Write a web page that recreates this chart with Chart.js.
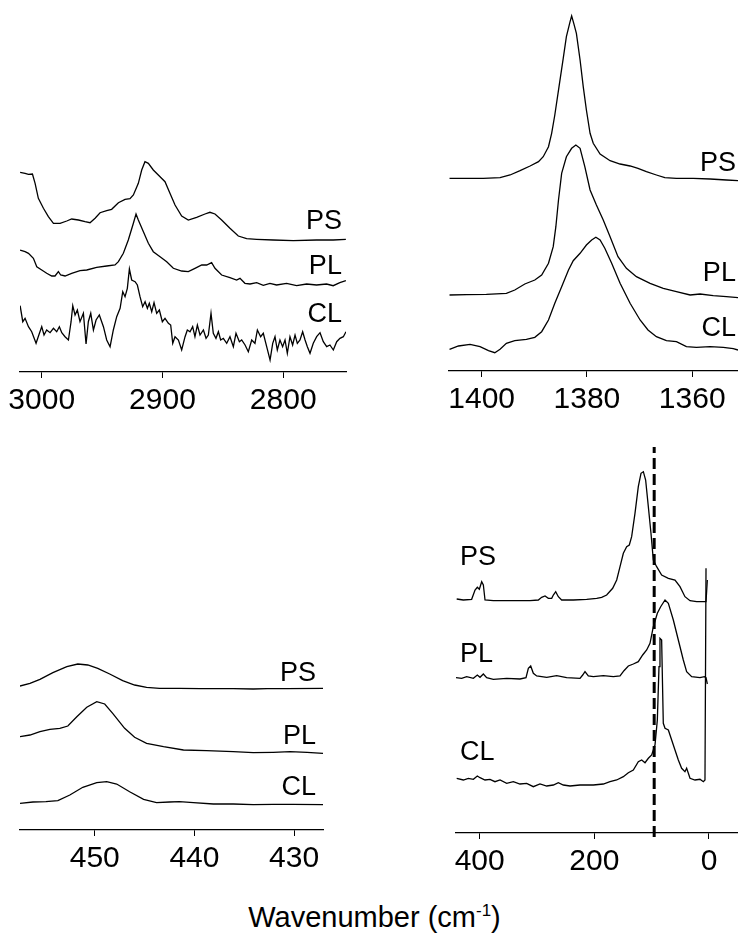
<!DOCTYPE html>
<html>
<head>
<meta charset="utf-8">
<title>Raman spectra PS / PL / CL</title>
<script src="https://cdn.jsdelivr.net/npm/chart.js@4.4.1/dist/chart.umd.min.js"></script>
<style>
  html, body { margin: 0; padding: 0; background: #fff; overflow: hidden; }
  body { width: 738px; height: 936px; position: relative; font-family: "Liberation Sans", Arial, sans-serif; }
  canvas { position: absolute; }
  #xlabel { position: absolute; left: 0; top: 900px; width: 749px; text-align: center;
            font-size: 29px; line-height: 34px; color: #000; }
  #xlabel sup { font-size: 17px; vertical-align: 0; position: relative; top: -11px; }
</style>
</head>
<body>
<canvas id="chStretch" width="369" height="422" style="left:0;top:0"></canvas>
<canvas id="ch3Bend" width="372" height="421" style="left:369px;top:0"></canvas>
<canvas id="skeletal" width="369" height="440" style="left:0;top:440px"></canvas>
<canvas id="lattice" width="372" height="443" style="left:369px;top:440px"></canvas>
<div id="xlabel">Wavenumber (cm<sup>-1</sup>)</div>
<script>
const FONT = '"Liberation Sans", Arial, sans-serif';
const seriesNames = ['PS', 'PL', 'CL'];

// C-H stretching region, 3020-2750 cm-1
const chTicks = [3000, 2900, 2800];
const chWnPS = [3017.9, 3013.8, 3011.0, 3007.7, 3005.5, 3002.8, 2998.6, 2994.5, 2990.3, 2984.8, 2979.3, 2975.2, 2969.6, 2964.1, 2960.0, 2955.8, 2951.7, 2946.2, 2942.1, 2936.5, 2931.0, 2926.9, 2924.1, 2920.0, 2917.2, 2914.5, 2911.7, 2907.6, 2902.0, 2897.9, 2893.8, 2889.6, 2884.1, 2878.6, 2871.7, 2864.8, 2860.7, 2856.5, 2851.0, 2844.1, 2837.2, 2830.3, 2822.0, 2808.2, 2791.7, 2772.4, 2758.6, 2748.1];
const chIntPS = [199.7, 198.7, 197.7, 198.0, 188.7, 173.7, 163.7, 155.3, 148.7, 148.7, 151.0, 153.0, 152.0, 150.3, 149.3, 153.7, 159.3, 161.3, 162.7, 169.3, 172.7, 173.3, 177.0, 188.7, 202.0, 210.3, 208.7, 202.0, 195.3, 190.3, 178.7, 167.0, 156.0, 152.0, 154.7, 158.0, 159.7, 158.0, 152.0, 143.7, 136.0, 133.3, 132.7, 132.0, 131.3, 132.0, 132.0, 132.7];
const chWnPL = [3017.9, 3013.8, 3011.0, 3006.9, 3004.1, 3000.0, 2995.9, 2991.7, 2989.0, 2986.2, 2984.3, 2980.7, 2975.2, 2968.3, 2962.7, 2954.5, 2946.2, 2939.3, 2936.5, 2932.4, 2928.3, 2924.1, 2921.9, 2920.0, 2915.8, 2911.7, 2907.6, 2902.0, 2896.5, 2891.0, 2884.1, 2878.6, 2873.1, 2867.5, 2863.4, 2859.3, 2856.5, 2851.0, 2844.1, 2838.6, 2835.8, 2831.7, 2827.5, 2822.0, 2816.5, 2811.0, 2805.5, 2797.2, 2788.9, 2780.6, 2772.4, 2764.1, 2758.6, 2753.1, 2748.1];
const chIntPL = [122.0, 120.3, 118.7, 113.7, 105.3, 102.0, 98.7, 96.0, 96.0, 100.3, 97.0, 96.0, 98.7, 101.3, 102.0, 104.7, 106.0, 107.0, 110.3, 118.7, 132.0, 148.7, 158.0, 152.0, 140.3, 128.7, 120.3, 115.3, 110.3, 103.7, 101.0, 100.3, 103.7, 107.0, 107.0, 109.3, 103.7, 97.0, 94.3, 92.0, 93.7, 88.7, 88.0, 89.3, 86.7, 88.7, 87.0, 88.7, 86.3, 88.0, 87.0, 88.0, 86.3, 89.3, 91.3];
const chWnCL = [3017.9, 3015.7, 3013.8, 3011.0, 3008.3, 3004.7, 3001.9, 3000.0, 2998.1, 2995.9, 2993.1, 2990.3, 2987.6, 2985.4, 2983.4, 2980.7, 2977.9, 2975.7, 2974.3, 2972.4, 2970.5, 2968.3, 2965.5, 2963.3, 2961.4, 2959.4, 2957.2, 2955.0, 2952.3, 2948.9, 2946.2, 2943.4, 2940.7, 2937.9, 2935.1, 2932.9, 2931.0, 2929.1, 2927.4, 2925.5, 2922.7, 2920.8, 2918.6, 2916.4, 2914.4, 2912.5, 2910.9, 2908.9, 2907.0, 2904.8, 2902.6, 2900.1, 2897.9, 2895.1, 2893.2, 2891.5, 2889.6, 2886.8, 2884.1, 2881.3, 2879.4, 2877.2, 2875.0, 2873.1, 2871.1, 2868.9, 2866.1, 2863.9, 2862.0, 2859.8, 2857.9, 2855.7, 2853.7, 2851.8, 2849.6, 2846.8, 2844.1, 2841.3, 2839.1, 2836.3, 2834.4, 2831.6, 2828.9, 2826.1, 2823.4, 2821.4, 2818.7, 2816.5, 2813.7, 2810.9, 2808.7, 2806.8, 2804.9, 2802.7, 2800.5, 2798.5, 2796.6, 2794.4, 2792.2, 2790.2, 2788.3, 2786.1, 2783.9, 2781.9, 2780.0, 2777.8, 2775.1, 2772.3, 2769.5, 2766.8, 2764.0, 2761.3, 2758.5, 2755.7, 2753.0, 2750.2, 2748.0];
const chIntCL = [66.3, 50.3, 53.7, 45.3, 40.3, 28.7, 38.7, 45.3, 37.0, 42.0, 39.3, 43.7, 40.3, 45.3, 39.3, 35.3, 32.0, 50.3, 66.3, 57.0, 62.0, 50.3, 58.7, 28.0, 50.3, 58.7, 42.0, 52.0, 57.0, 45.3, 32.0, 25.3, 42.0, 55.3, 63.7, 80.3, 75.3, 83.7, 103.0, 92.0, 90.3, 87.0, 75.3, 65.3, 70.3, 63.7, 68.7, 60.3, 69.3, 58.7, 62.0, 50.3, 53.7, 48.7, 47.0, 28.7, 35.3, 32.0, 22.0, 35.3, 42.0, 40.3, 45.3, 35.3, 47.0, 37.0, 42.0, 33.7, 37.0, 58.7, 38.7, 33.7, 40.3, 32.0, 33.7, 28.7, 35.3, 25.3, 38.7, 30.3, 32.0, 27.0, 20.3, 32.0, 28.7, 42.0, 35.3, 38.7, 25.3, 12.0, 28.7, 35.3, 22.0, 32.0, 25.3, 32.0, 18.7, 35.3, 27.0, 37.0, 28.7, 32.0, 40.3, 32.0, 25.3, 18.7, 28.7, 35.3, 39.3, 30.3, 25.3, 27.0, 22.0, 30.3, 33.7, 35.3, 40.3];

// CH3 symmetric bending region, 1406-1351 cm-1
const bendTicks = [1400, 1380, 1360];
const bendWnPS = [1406.1, 1402.8, 1399.7, 1396.5, 1394.6, 1392.7, 1390.8, 1389.2, 1388.3, 1387.3, 1386.7, 1386.1, 1385.3, 1384.5, 1383.9, 1383.2, 1382.9, 1382.5, 1382.0, 1381.3, 1380.7, 1380.1, 1379.4, 1378.8, 1377.5, 1375.6, 1373.7, 1371.8, 1370.3, 1368.7, 1366.8, 1365.2, 1363.0, 1359.8, 1356.6, 1353.5, 1351.3];
const bendIntPS = [192.7, 192.7, 192.7, 193.3, 196.0, 200.3, 205.0, 209.3, 214.3, 224.3, 237.7, 256.0, 284.3, 312.7, 334.3, 349.3, 355.0, 347.7, 337.7, 311.0, 284.3, 261.0, 237.7, 227.7, 217.0, 210.3, 207.0, 205.0, 202.7, 199.3, 196.0, 193.3, 192.7, 192.7, 192.0, 191.0, 190.3];
const bendWnPL = [1406.1, 1402.8, 1399.1, 1395.3, 1393.7, 1391.8, 1389.9, 1388.6, 1387.3, 1386.4, 1385.9, 1385.4, 1384.8, 1383.9, 1382.9, 1382.1, 1381.3, 1380.4, 1379.4, 1378.2, 1376.9, 1375.6, 1374.1, 1372.5, 1370.6, 1368.0, 1365.5, 1363.0, 1360.4, 1358.5, 1356.0, 1353.5, 1351.3];
const bendIntPL = [76.0, 76.3, 76.7, 77.7, 81.0, 87.0, 91.0, 96.0, 107.7, 124.3, 144.3, 171.0, 197.7, 214.3, 222.7, 226.0, 222.7, 204.3, 181.0, 166.0, 151.0, 134.3, 114.3, 102.7, 94.3, 87.7, 82.7, 79.3, 76.0, 77.0, 75.3, 74.3, 73.3];
const bendWnCL = [1406.1, 1404.4, 1402.2, 1400.3, 1398.7, 1397.5, 1396.5, 1395.3, 1393.7, 1391.5, 1389.9, 1388.6, 1387.3, 1386.1, 1384.8, 1383.5, 1382.6, 1381.3, 1380.1, 1379.1, 1378.3, 1377.5, 1376.6, 1375.3, 1373.7, 1371.8, 1369.9, 1368.4, 1366.8, 1364.9, 1363.0, 1361.1, 1359.2, 1356.6, 1354.1, 1352.2, 1351.3];
const bendIntCL = [21.7, 25.0, 26.7, 24.3, 20.3, 18.3, 21.7, 27.7, 30.3, 31.7, 33.7, 39.3, 51.0, 67.7, 84.3, 101.0, 110.3, 117.7, 126.0, 131.0, 133.7, 131.0, 122.7, 107.7, 87.7, 67.7, 51.0, 41.0, 34.3, 30.3, 29.3, 24.3, 23.7, 24.3, 23.7, 22.3, 21.0];

// skeletal band near 450 cm-1
const skelTicks = [450, 440, 430];
const skelWnPS = [457.5, 456.5, 455.5, 454.2, 452.8, 451.7, 450.7, 449.7, 448.5, 447.2, 446.0, 444.8, 443.5, 441.5, 439.4, 436.1, 434.1, 432.7, 430.7, 427.1];
const skelIntPS = [144.0, 146.7, 150.7, 157.3, 163.3, 166.0, 165.0, 161.7, 156.0, 149.3, 145.0, 142.7, 141.7, 141.7, 141.3, 141.3, 141.0, 141.3, 141.3, 141.7];
const skelWnPL = [457.5, 456.5, 455.5, 454.5, 453.5, 452.7, 451.8, 450.8, 449.8, 449.0, 448.2, 447.0, 446.0, 444.8, 443.1, 441.1, 438.8, 436.1, 434.1, 432.1, 430.4, 428.7, 427.1];
const skelIntPL = [93.3, 95.0, 98.3, 100.7, 101.7, 104.0, 113.3, 122.7, 128.3, 126.0, 116.7, 101.7, 92.7, 86.7, 83.3, 80.0, 79.3, 78.3, 77.3, 77.7, 78.3, 77.7, 76.7];
const skelWnCL = [457.5, 456.2, 454.9, 453.7, 452.5, 451.2, 449.8, 448.8, 447.8, 446.5, 445.1, 443.8, 442.5, 441.5, 440.1, 438.1, 436.1, 434.1, 432.1, 430.1, 427.1];
const skelIntCL = [26.7, 28.0, 28.3, 29.3, 35.0, 42.7, 47.3, 48.3, 46.0, 38.3, 30.7, 27.3, 28.0, 28.3, 27.3, 26.0, 26.0, 25.3, 25.7, 25.7, 25.3];

// low-frequency (lattice) region, 440 to -50 cm-1
const lowTicks = [400, 200, 0];
const lowMarkerWn = 95.6;
const lowWnPS = [440.1, 428.5, 414.0, 408.1, 404.1, 400.6, 396.5, 393.6, 390.7, 376.2, 341.3, 312.2, 297.7, 291.9, 286.0, 280.2, 274.4, 271.5, 267.4, 262.8, 257.0, 236.6, 213.4, 195.9, 187.2, 178.5, 168.0, 161.0, 155.2, 149.4, 143.6, 139.0, 134.9, 129.1, 123.3, 118.6, 114.5, 110.5, 105.8, 101.2, 97.1, 91.3, 82.6, 70.9, 59.3, 50.6, 41.9, 33.1, 21.5, 5.2, 2.9];
const lowIntPS = [234.0, 233.0, 233.7, 243.0, 245.7, 243.7, 251.3, 248.0, 233.0, 232.3, 232.3, 232.3, 233.0, 235.7, 237.0, 234.7, 234.7, 238.0, 241.3, 236.3, 233.0, 233.0, 233.7, 234.7, 235.7, 238.0, 244.7, 253.0, 266.3, 279.7, 286.3, 288.0, 296.3, 319.7, 346.3, 359.7, 361.3, 353.0, 326.3, 299.7, 273.0, 266.3, 258.0, 254.7, 253.0, 246.3, 236.3, 232.3, 231.3, 231.3, 253.0];
const lowWnPL = [441.3, 431.4, 422.7, 411.0, 404.1, 399.4, 393.6, 387.8, 376.2, 352.9, 329.7, 319.2, 315.1, 311.0, 306.4, 300.6, 283.1, 265.7, 248.3, 225.0, 220.3, 216.3, 210.5, 201.7, 184.3, 166.9, 155.2, 148.3, 140.7, 132.0, 123.3, 115.7, 108.7, 102.9, 97.1, 90.1, 84.3, 76.7, 70.9, 62.2, 53.5, 44.8, 39.0, 30.2, 15.7, 8.1, 5.2, 2.9];
const lowIntPL = [155.3, 154.7, 156.3, 154.7, 158.0, 155.7, 159.0, 155.3, 153.7, 154.7, 154.0, 155.3, 164.7, 167.0, 159.7, 157.0, 155.7, 157.3, 155.3, 154.7, 158.0, 161.3, 157.0, 156.3, 157.3, 156.3, 157.0, 162.3, 167.0, 169.0, 171.3, 178.0, 183.0, 189.7, 206.3, 219.7, 226.3, 233.0, 229.7, 213.0, 193.0, 173.0, 161.3, 156.3, 155.3, 156.3, 155.3, 149.0];
const lowWnCL = [440.1, 428.5, 419.8, 411.0, 404.1, 399.4, 390.7, 382.0, 373.3, 364.5, 352.9, 341.3, 329.7, 318.0, 306.4, 294.8, 283.1, 271.5, 262.8, 254.1, 242.4, 225.0, 201.7, 184.3, 172.7, 161.0, 149.4, 140.7, 132.0, 123.3, 117.4, 111.6, 105.8, 100.0, 94.2, 90.1, 87.2, 85.5, 82.6, 79.7, 76.7, 70.9, 65.1, 59.3, 53.5, 47.7, 41.9, 39.0, 36.0, 33.1, 24.4, 15.7, 9.9, 7.0, 5.2];
const lowIntCL = [54.7, 53.0, 54.7, 53.7, 57.0, 55.3, 53.0, 53.7, 51.3, 53.0, 49.7, 51.3, 49.0, 49.7, 46.3, 49.0, 47.0, 48.0, 50.3, 48.0, 47.0, 48.0, 48.0, 49.0, 51.3, 53.0, 56.3, 60.3, 63.0, 71.3, 73.0, 70.3, 74.7, 78.0, 88.0, 113.0, 166.3, 194.7, 193.0, 109.7, 104.7, 103.0, 93.0, 83.0, 73.0, 64.7, 61.3, 64.7, 59.7, 54.7, 53.0, 53.7, 51.3, 53.0, 264.7];

// draws the PS / PL / CL name next to each trace, placed in data units
const seriesTags = {
  id: 'seriesTags',
  afterDatasetsDraw(chart, args, opts) {
    const ctx = chart.ctx;
    const xs = chart.scales.x, ys = chart.scales.y;
    ctx.save();
    ctx.font = '27px ' + FONT;
    ctx.fillStyle = '#000';
    ctx.textAlign = opts.align;
    ctx.textBaseline = 'middle';
    seriesNames.forEach((name, i) => {
      ctx.fillText(name, xs.getPixelForValue(opts.at), ys.getPixelForValue(opts.heights[i]));
    });
    ctx.restore();
  }
};

function trace(wn, intensity) {
  return {
    data: wn.map((w, i) => ({ x: w, y: intensity[i] })),
    showLine: true,
    borderColor: '#000',
    borderWidth: 1.3,
    pointRadius: 0,
    tension: 0,
    fill: false
  };
}

function spectrumChart(id, p) {
  const datasets = p.traces.slice();
  if (p.marker !== undefined) {
    datasets.push({
      data: [{ x: p.marker, y: -4 }, { x: p.marker, y: 386 }],
      showLine: true,
      borderColor: '#000',
      borderWidth: 3,
      borderDash: [11, 5],
      pointRadius: 0,
      clip: false
    });
  }
  return new Chart(document.getElementById(id), {
    type: 'scatter',
    data: { datasets: datasets },
    options: {
      responsive: false,
      animation: false,
      devicePixelRatio: 1,
      layout: { padding: { left: p.padLeft, right: p.padRight, top: 0, bottom: 0 } },
      plugins: {
        legend: { display: false },
        tooltip: { enabled: false },
        seriesTags: { at: p.tagAt, align: p.tagAlign, heights: p.tagHeights }
      },
      scales: {
        x: {
          type: 'linear',
          reverse: true,
          min: p.xMin,
          max: p.xMax,
          afterBuildTicks: s => { s.ticks = p.ticks.map(v => ({ value: v })); },
          afterFit: s => { s.height = 50; },
          grid: { drawOnChartArea: false, drawTicks: true, tickLength: 6, color: '#000', lineWidth: 1 },
          border: { display: true, color: '#000', width: 1.3 },
          ticks: {
            color: '#000',
            font: { family: FONT, size: 30 },
            padding: 5,
            maxRotation: 0,
            autoSkip: false,
            callback: v => String(v)
          }
        },
        y: { display: false, min: 0, max: p.yMax }
      }
    },
    plugins: [seriesTags]
  });
}

spectrumChart('chStretch', {
  traces: [trace(chWnPS, chIntPS), trace(chWnPL, chIntPL), trace(chWnCL, chIntCL)],
  ticks: chTicks, xMin: 2748, xMax: 3018, yMax: 372,
  padLeft: 20, padRight: 23,
  tagAt: 2751.4, tagAlign: 'right', tagHeights: [150, 105, 57]
});

spectrumChart('ch3Bend', {
  traces: [trace(bendWnPS, bendIntPS), trace(bendWnPL, bendIntPL), trace(bendWnCL, bendIntCL)],
  ticks: bendTicks, xMin: 1351.3, xMax: 1406.2, yMax: 371,
  padLeft: 80, padRight: 3,
  tagAt: 1351.7, tagAlign: 'right', tagHeights: [207, 97, 42]
});

spectrumChart('skeletal', {
  traces: [trace(skelWnPS, skelIntPS), trace(skelWnPL, skelIntPL), trace(skelWnCL, skelIntCL)],
  ticks: skelTicks, xMin: 427.1, xMax: 457.5, yMax: 390,
  padLeft: 20, padRight: 46,
  tagAt: 427.8, tagAlign: 'right', tagHeights: [156, 93, 42]
});

spectrumChart('lattice', {
  traces: [trace(lowWnPS, lowIntPS), trace(lowWnPL, lowIntPL), trace(lowWnCL, lowIntCL)],
  ticks: lowTicks, xMin: -50.6, xMax: 441.3, yMax: 393,
  padLeft: 87, padRight: 3,
  marker: lowMarkerWn,
  tagAt: 434.3, tagAlign: 'left', tagHeights: [275.5, 178, 80]
});
</script>
</body>
</html>
